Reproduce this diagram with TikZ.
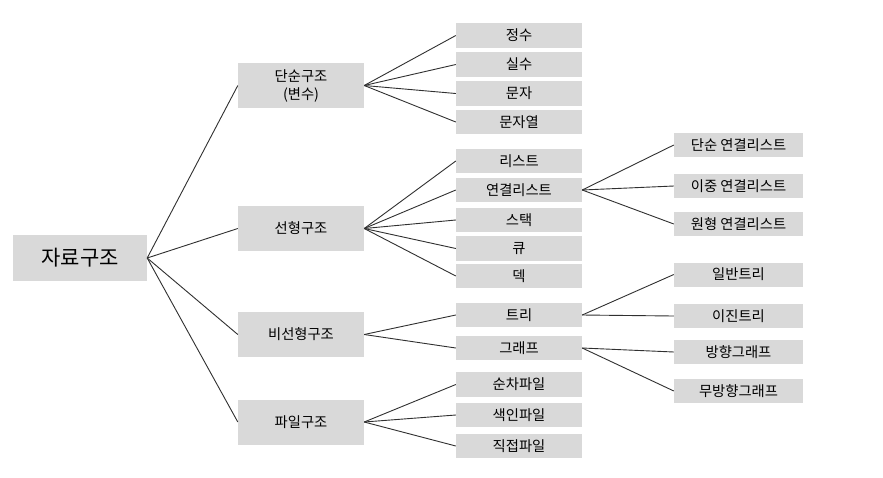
\documentclass[tikz,border=0pt]{standalone}
\usepackage{fontspec}
\newfontfamily\kr{Noto Sans CJK KR}
\definecolor{boxgray}{HTML}{D9D9D9}
\definecolor{linegray}{HTML}{303030}
\begin{document}
\begin{tikzpicture}[x=1pt,y=-1pt,
  box/.style={fill=boxgray,draw=none,inner sep=0pt,font=\kr\fontsize{14.3}{18}\selectfont,text=black,align=center},
  rootbox/.style={box,minimum width=134pt,minimum height=46pt,font=\kr\fontsize{21}{24}\selectfont},
  lvone/.style={box,minimum width=126pt,minimum height=45pt},
  lvtwo/.style={box,minimum width=126pt,minimum height=24.5pt},
  lvthree/.style={box,minimum width=129pt,minimum height=24pt},
  conn/.style={draw=linegray,line width=0.9pt}]
\useasboundingbox (0,0) rectangle (883,477);
\fill[white] (0,0) rectangle (883,477);
% root
\node[rootbox] (root) at (80,258) {자료구조};
% level 1
\node[lvone] (simple) at (301,85.5) {단순구조\\(변수)};
\node[lvone] (linear) at (301,228.5) {선형구조};
\node[lvone] (nonlin) at (301,334.5) {비선형구조};
\node[lvone] (file) at (301,422) {파일구조};
% level 2
\node[lvtwo] (int) at (519,35.5) {정수};
\node[lvtwo] (real) at (519,64.5) {실수};
\node[lvtwo] (char) at (519,93.5) {문자};
\node[lvtwo] (str) at (519,122) {문자열};
\node[lvtwo] (list) at (519,161) {리스트};
\node[lvtwo] (llist) at (519,190) {연결리스트};
\node[lvtwo] (stack) at (519,220) {스택};
\node[lvtwo] (queue) at (519,248.5) {큐};
\node[lvtwo] (deque) at (519,276) {덱};
\node[lvtwo] (tree) at (519,315) {트리};
\node[lvtwo] (graph) at (519,348) {그래프};
\node[lvtwo] (seqf) at (519,384.5) {순차파일};
\node[lvtwo] (idxf) at (519,415) {색인파일};
\node[lvtwo] (dirf) at (519,446) {직접파일};
% level 3
\node[lvthree] (sll) at (738.5,145) {단순 연결리스트};
\node[lvthree] (dll) at (738.5,186) {이중 연결리스트};
\node[lvthree] (cll) at (738.5,224) {원형 연결리스트};
\node[lvthree] (gtree) at (738.5,274.5) {일반트리};
\node[lvthree] (btree) at (738.5,316) {이진트리};
\node[lvthree] (dgraph) at (738.5,352) {방향그래프};
\node[lvthree] (ugraph) at (738.5,391) {무방향그래프};
% connectors
\foreach \c in {simple,linear,nonlin,file} \draw[conn] (root.east) -- (\c.west);
\foreach \c in {int,real,char,str} \draw[conn] (simple.east) -- (\c.west);
\foreach \c in {list,llist,stack,queue,deque} \draw[conn] (linear.east) -- (\c.west);
\foreach \c in {tree,graph} \draw[conn] (nonlin.east) -- (\c.west);
\foreach \c in {seqf,idxf,dirf} \draw[conn] (file.east) -- (\c.west);
\foreach \c in {sll,dll,cll} \draw[conn] (llist.east) -- (\c.west);
\foreach \c in {gtree,btree} \draw[conn] (tree.east) -- (\c.west);
\foreach \c in {dgraph,ugraph} \draw[conn] (graph.east) -- (\c.west);
\end{tikzpicture}
\end{document}
